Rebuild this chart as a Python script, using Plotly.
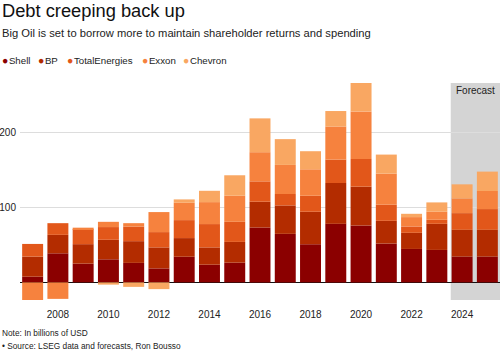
import plotly.graph_objects as go

years = list(range(2007, 2026))
shell = [7.6, 38.8, 25, 30.8, 26, 18.7, 34.2, 23.6, 26.3, 73.2, 64.7, 50.9, 78.1, 75.9, 51.8, 44.6, 43.3, 34.4, 34.4]
bp = [26.8, 24.6, 26, 26, 29, 28, 24.9, 23.1, 27.7, 34.4, 38, 43.3, 54.5, 51.8, 30.3, 21.5, 34.8, 35.7, 35.7]
total = [16.9, 15.6, 20, 17, 19.5, 20.4, 24, 31.1, 26.8, 27.2, 15.2, 21.4, 31.2, 37, 21.5, 8.5, 5.4, 22.3, 27.7]
exxon = [-24, -22, 2, 7, 4.5, 26.7, 23.1, 29.3, 34.8, 38.9, 38.8, 35.3, 44.2, 63.4, 41.5, 12.5, 10.7, 19.7, 24.1]
chevron = [0, 0, 0, -3, -6, -9, 4.5, 15.1, 27.3, 45.1, 34.4, 24.1, 20.6, 38.9, 25.4, 4.4, 12.5, 18.7, 25.9]

names = ["Shell", "BP", "TotalEnergies", "Exxon", "Chevron"]
colors = ["#8b0000", "#b32c00", "#e2571a", "#f6823e", "#f9a762"]
series = [shell, bp, total, exxon, chevron]
y_ticks = [100, 200]
x_ticks = list(range(2008, 2025, 2))

W, H = 500, 352
L, R, T, B = 20, 0, 83, 52
pw, ph = W - L - R, H - T - B

def px_x(p):
    return (p - L) / pw

def px_y(p):
    return (H - B - p) / ph

fig = go.Figure()
for n, c, s in zip(names, colors, series):
    fig.add_trace(go.Bar(x=years, y=s, name=n, marker=dict(color=c, line=dict(width=0)),
                         showlegend=False))

font = "Liberation Sans, Arial, Helvetica, sans-serif"
ann = []
ann.append(dict(text="Debt creeping back up", x=px_x(0), y=px_y(10.5), xref="paper", yref="paper",
                xanchor="left", yanchor="middle", showarrow=False,
                font=dict(size=18.3, color="#111", family=font)))
ann.append(dict(text="Big Oil is set to borrow more to maintain shareholder returns and spending",
                x=px_x(0), y=px_y(33), xref="paper", yref="paper",
                xanchor="left", yanchor="middle", showarrow=False,
                font=dict(size=11.2, color="#222", family=font)))
leg_x = [0, 36, 64.5, 139.5, 180.5]
for lx, n, c in zip(leg_x, names, colors):
    ann.append(dict(text=f"<span style='color:{c};font-size:10.5px'>●</span><span style='font-size:2px'> </span>{n}",
                    x=px_x(lx), y=px_y(60), xref="paper", yref="paper",
                    xanchor="left", yanchor="middle", showarrow=False,
                    font=dict(size=9.7, color="#222", family=font)))
ann.append(dict(text="Forecast", x=px_x(454), y=px_y(91), xref="paper", yref="paper",
                xanchor="left", yanchor="middle", showarrow=False,
                font=dict(size=10, color="#222", family=font)))
ann.append(dict(text="Note: In billions of USD", x=px_x(0), y=px_y(333), xref="paper", yref="paper",
                xanchor="left", yanchor="middle", showarrow=False,
                font=dict(size=8.3, color="#222", family=font)))
ann.append(dict(text="• Source: LSEG data and forecasts, Ron Bousso", x=px_x(0), y=px_y(346),
                xref="paper", yref="paper", xanchor="left", yanchor="middle", showarrow=False,
                font=dict(size=8.3, color="#222", family=font)))

fig.update_layout(
    width=W, height=H,
    margin=dict(l=L, r=R, t=T, b=B, pad=0),
    barmode="relative", bargap=0.17,
    plot_bgcolor="white", paper_bgcolor="white",
    font=dict(family=font, size=10, color="#222"),
    annotations=ann,
    shapes=[dict(type="rect", xref="x", yref="paper", x0=2023.55, x1=2025.5, y0=0, y1=1,
                 fillcolor="#d4d4d4", line=dict(width=0), layer="below")],
    xaxis=dict(range=[2006.5, 2025.5], tickvals=x_ticks, ticktext=[str(v) for v in x_ticks],
               showgrid=False, zeroline=False, showline=False,
               ticks="outside", ticklen=5, tickcolor="rgba(0,0,0,0)",
               tickfont=dict(size=10, color="#222")),
    yaxis=dict(range=[-23.5, 266], tickvals=y_ticks, ticktext=[str(v) for v in y_ticks],
               showgrid=True, gridcolor="#dddddd", gridwidth=1,
               zeroline=True, zerolinecolor="#111", zerolinewidth=1.2,
               showline=False, ticks="", tickfont=dict(size=10, color="#222"),
               ticklabelstandoff=3),
)

fig.write_html("out.html")
